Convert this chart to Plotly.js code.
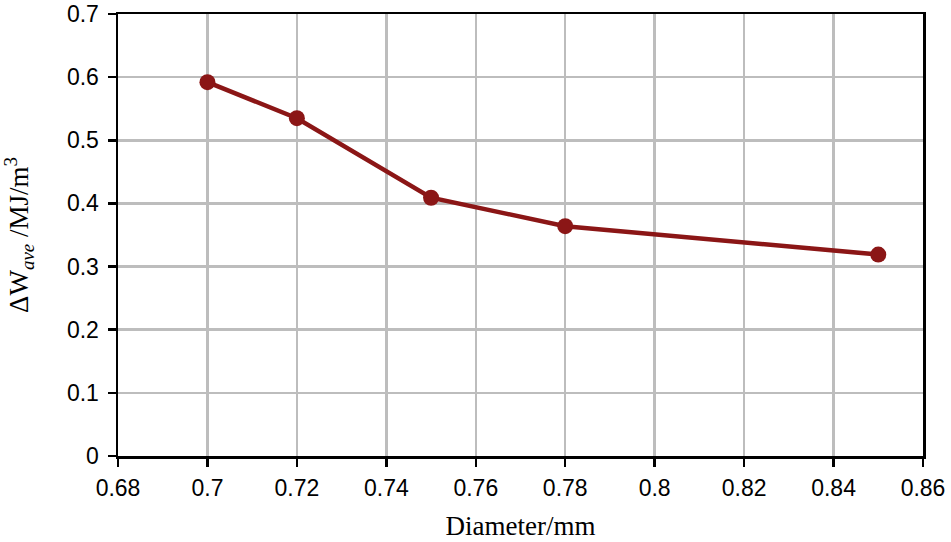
<!DOCTYPE html>
<html><head><meta charset="utf-8">
<script src="https://cdn.plot.ly/plotly-3.0.1.min.js"></script>
<style>body{margin:0;background:#fff}#c{width:951px;height:542px}</style>
</head><body><div id="c"></div>
<script>
const diameter = [0.70, 0.72, 0.75, 0.78, 0.85];
const deltaW = [0.592, 0.535, 0.409, 0.364, 0.319];
const xTicks = [0.68, 0.7, 0.72, 0.74, 0.76, 0.78, 0.8, 0.82, 0.84, 0.86];
const yTicks = [0, 0.1, 0.2, 0.3, 0.4, 0.5, 0.6, 0.7];

const trace = {
  x: diameter, y: deltaW, type: 'scatter', mode: 'lines+markers',
  line: {color: '#8b1616', width: 4.5},
  marker: {color: '#8b1616', size: 16},
  hoverinfo: 'skip'
};
const layout = {
  width: 951, height: 542,
  margin: {l: 118, r: 28, t: 14, b: 86},
  paper_bgcolor: '#fff', plot_bgcolor: '#fff',
  showlegend: false,
  font: {family: 'Liberation Sans, Arial, sans-serif', size: 23, color: '#000'},
  xaxis: {
    range: [0.68, 0.86], tickvals: xTicks, ticktext: xTicks.map(String),
    showgrid: true, gridcolor: '#bdbdbd', gridwidth: 2.5,
    showline: true, linecolor: '#000', linewidth: 2.5, mirror: true,
    ticks: 'outside', ticklen: 8, tickwidth: 2.5, tickcolor: '#000',
    ticklabelstandoff: 2,
    zeroline: false,
    title: {text: 'Diameter/mm', font: {family: 'Liberation Serif, Times New Roman, serif', size: 27}, standoff: 16}
  },
  yaxis: {
    range: [0, 0.7], tickvals: yTicks, ticktext: yTicks.map(String),
    showgrid: true, gridcolor: '#bdbdbd', gridwidth: 2.5,
    showline: true, linecolor: '#000', linewidth: 2.5, mirror: true,
    ticks: 'outside', ticklen: 8, tickwidth: 2.5, tickcolor: '#000',
    ticklabelstandoff: 4,
    zeroline: false,
    title: {text: 'ΔW<sub><i>ave</i></sub> /MJ/m<sup>3</sup>', font: {family: 'Liberation Serif, Times New Roman, serif', size: 27}, standoff: 32}
  }
};
Plotly.newPlot('c', [trace], layout, {staticPlot: true, displayModeBar: false});
</script></body></html>
